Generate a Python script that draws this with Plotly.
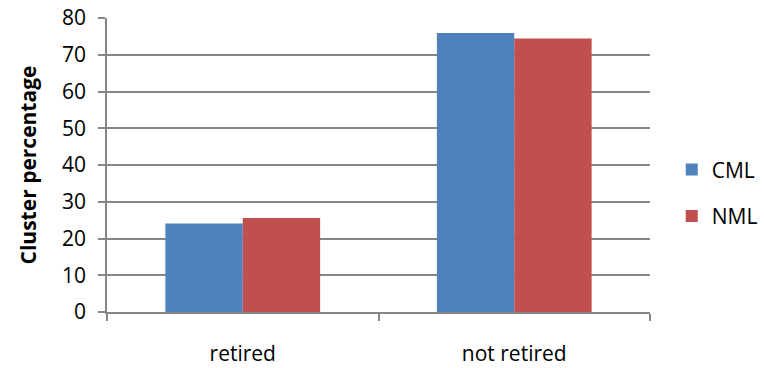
import plotly.graph_objects as go

# Cluster shares by retirement status
categories = ["retired", "not retired"]
cml_values = [24.1, 75.9]
nml_values = [25.6, 74.4]
y_ticks = [0, 10, 20, 30, 40, 50, 60, 70, 80]

FONT = "Open Sans"
GRID = "#868686"

fig = go.Figure()
fig.add_trace(go.Bar(name="CML", x=categories, y=cml_values,
                     marker=dict(color="#4F81BD", line=dict(width=0)),
                     legendgroup="a"))
fig.add_trace(go.Bar(name="NML", x=categories, y=nml_values,
                     marker=dict(color="#C0504D", line=dict(width=0)),
                     legendgroup="b"))

fig.update_layout(
    width=764, height=368,
    margin=dict(l=107, r=114, t=18, b=56, autoexpand=False),
    paper_bgcolor="white", plot_bgcolor="white",
    font=dict(family=FONT, size=21, color="black"),
    barmode="group", bargap=0.43, bargroupgap=0,
    showlegend=True,
    legend=dict(x=1.04, y=0.405, xanchor="left", yanchor="middle",
                font=dict(family=FONT, size=21),
                traceorder="grouped", tracegroupgap=16,
                itemwidth=30),
)
fig.update_xaxes(
    type="category", tickson="boundaries", ticks="outside", ticklen=7,
    tickcolor=GRID, tickwidth=1.5, showline=True, linecolor=GRID, linewidth=1.5,
    showgrid=False, tickfont=dict(family=FONT, size=21), ticklabelstandoff=22,
)
fig.update_yaxes(
    range=[0, 80], tickvals=y_ticks, ticks="outside", ticklen=7,
    tickcolor=GRID, tickwidth=1.5, showline=True, linecolor=GRID, linewidth=1.5,
    showgrid=True, gridcolor=GRID, gridwidth=1.5, zeroline=False,
    tickfont=dict(family=FONT, size=21), ticklabelstandoff=8,
    title=dict(text="<b>Cluster percentage</b>", font=dict(family=FONT, size=21),
               standoff=20),
)

fig.write_html("out.html")
